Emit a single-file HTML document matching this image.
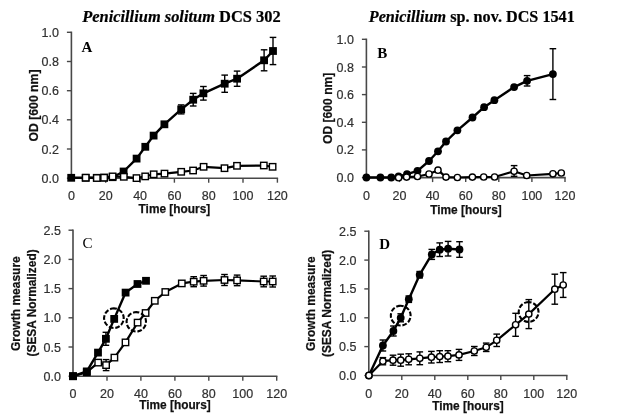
<!DOCTYPE html>
<html lang="en">
<head>
<meta charset="utf-8">
<title>Growth curves</title>
<style>
html,body{margin:0;padding:0;background:#fff;}
body{width:620px;height:415px;overflow:hidden;}
svg{display:block;}
.tk{font-family:"Liberation Sans",sans-serif;font-size:12.5px;fill:#303030;stroke:#303030;stroke-width:0.2px;}
.lb{font-family:"Liberation Sans",sans-serif;font-size:13px;font-weight:bold;fill:#111;stroke:#111;stroke-width:0.25px;}
.ttl{font-family:"Liberation Serif",serif;font-size:15.8px;font-weight:bold;fill:#000;stroke:#000;stroke-width:0.2px;}
.pl{font-family:"Liberation Serif",serif;font-size:15px;fill:#000;}
</style>
</head>
<body>
<svg width="620" height="415" viewBox="0 0 620 415">
<rect x="0" y="0" width="620" height="415" fill="#ffffff"/>
<g style="filter:blur(0.45px)">
<line x1="71.4" y1="31.6" x2="71.4" y2="178.9" stroke="#484848" stroke-width="1.6" />
<line x1="71.4" y1="178.2" x2="278.1" y2="178.2" stroke="#484848" stroke-width="1.6" />
<line x1="105.7" y1="178.2" x2="105.7" y2="182.7" stroke="#484848" stroke-width="1.4" />
<line x1="140.1" y1="178.2" x2="140.1" y2="182.7" stroke="#484848" stroke-width="1.4" />
<line x1="174.4" y1="178.2" x2="174.4" y2="182.7" stroke="#484848" stroke-width="1.4" />
<line x1="208.7" y1="178.2" x2="208.7" y2="182.7" stroke="#484848" stroke-width="1.4" />
<line x1="243.0" y1="178.2" x2="243.0" y2="182.7" stroke="#484848" stroke-width="1.4" />
<line x1="277.4" y1="178.2" x2="277.4" y2="182.7" stroke="#484848" stroke-width="1.4" />
<line x1="66.9" y1="178.2" x2="71.4" y2="178.2" stroke="#484848" stroke-width="1.4" />
<line x1="66.9" y1="149.0" x2="71.4" y2="149.0" stroke="#484848" stroke-width="1.4" />
<line x1="66.9" y1="119.8" x2="71.4" y2="119.8" stroke="#484848" stroke-width="1.4" />
<line x1="66.9" y1="90.7" x2="71.4" y2="90.7" stroke="#484848" stroke-width="1.4" />
<line x1="66.9" y1="61.5" x2="71.4" y2="61.5" stroke="#484848" stroke-width="1.4" />
<line x1="66.9" y1="32.3" x2="71.4" y2="32.3" stroke="#484848" stroke-width="1.4" />
<text x="71.4" y="199.8" class="tk" text-anchor="middle">0</text>
<text x="105.7" y="199.8" class="tk" text-anchor="middle">20</text>
<text x="140.1" y="199.8" class="tk" text-anchor="middle">40</text>
<text x="174.4" y="199.8" class="tk" text-anchor="middle">60</text>
<text x="208.7" y="199.8" class="tk" text-anchor="middle">80</text>
<text x="243.0" y="199.8" class="tk" text-anchor="middle">100</text>
<text x="277.4" y="199.8" class="tk" text-anchor="middle">120</text>
<text x="59.0" y="182.7" class="tk" text-anchor="end">0.0</text>
<text x="59.0" y="153.5" class="tk" text-anchor="end">0.2</text>
<text x="59.0" y="124.3" class="tk" text-anchor="end">0.4</text>
<text x="59.0" y="95.2" class="tk" text-anchor="end">0.6</text>
<text x="59.0" y="66.0" class="tk" text-anchor="end">0.8</text>
<text x="59.0" y="36.8" class="tk" text-anchor="end">1.0</text>
<polyline points="71.2,177.8 85.7,177.8 96.8,177.8 104.1,177.6 112.6,177.2 123.6,171.5 136.6,158.6 145.3,146.8 153.6,135.6 164.4,124.3 181.2,109.4 193.2,99.7 203.4,93.3 224.7,83.7 237.1,78.7 264.1,60.3 273.0,51.0" fill="none" stroke="#000" stroke-width="2.4" stroke-linejoin="round"/>
<line x1="181.2" y1="104.9" x2="181.2" y2="113.9" stroke="#000" stroke-width="1.4" />
<line x1="177.9" y1="104.9" x2="184.5" y2="104.9" stroke="#000" stroke-width="1.4" />
<line x1="177.9" y1="113.9" x2="184.5" y2="113.9" stroke="#000" stroke-width="1.4" />
<line x1="193.2" y1="93.4" x2="193.2" y2="106.0" stroke="#000" stroke-width="1.4" />
<line x1="189.9" y1="93.4" x2="196.5" y2="93.4" stroke="#000" stroke-width="1.4" />
<line x1="189.9" y1="106.0" x2="196.5" y2="106.0" stroke="#000" stroke-width="1.4" />
<line x1="203.4" y1="86.5" x2="203.4" y2="100.1" stroke="#000" stroke-width="1.4" />
<line x1="200.1" y1="86.5" x2="206.7" y2="86.5" stroke="#000" stroke-width="1.4" />
<line x1="200.1" y1="100.1" x2="206.7" y2="100.1" stroke="#000" stroke-width="1.4" />
<line x1="224.7" y1="75.1" x2="224.7" y2="92.3" stroke="#000" stroke-width="1.4" />
<line x1="221.4" y1="75.1" x2="228.0" y2="75.1" stroke="#000" stroke-width="1.4" />
<line x1="221.4" y1="92.3" x2="228.0" y2="92.3" stroke="#000" stroke-width="1.4" />
<line x1="237.1" y1="71.1" x2="237.1" y2="86.3" stroke="#000" stroke-width="1.4" />
<line x1="233.8" y1="71.1" x2="240.4" y2="71.1" stroke="#000" stroke-width="1.4" />
<line x1="233.8" y1="86.3" x2="240.4" y2="86.3" stroke="#000" stroke-width="1.4" />
<line x1="264.1" y1="49.8" x2="264.1" y2="70.8" stroke="#000" stroke-width="1.4" />
<line x1="260.8" y1="49.8" x2="267.4" y2="49.8" stroke="#000" stroke-width="1.4" />
<line x1="260.8" y1="70.8" x2="267.4" y2="70.8" stroke="#000" stroke-width="1.4" />
<line x1="273.0" y1="37.4" x2="273.0" y2="64.6" stroke="#000" stroke-width="1.4" />
<line x1="269.7" y1="37.4" x2="276.3" y2="37.4" stroke="#000" stroke-width="1.4" />
<line x1="269.7" y1="64.6" x2="276.3" y2="64.6" stroke="#000" stroke-width="1.4" />
<rect x="67.3" y="173.9" width="7.8" height="7.8" fill="#000"/>
<rect x="81.8" y="173.9" width="7.8" height="7.8" fill="#000"/>
<rect x="92.9" y="173.9" width="7.8" height="7.8" fill="#000"/>
<rect x="100.2" y="173.7" width="7.8" height="7.8" fill="#000"/>
<rect x="108.7" y="173.3" width="7.8" height="7.8" fill="#000"/>
<rect x="119.7" y="167.6" width="7.8" height="7.8" fill="#000"/>
<rect x="132.7" y="154.7" width="7.8" height="7.8" fill="#000"/>
<rect x="141.4" y="142.9" width="7.8" height="7.8" fill="#000"/>
<rect x="149.7" y="131.7" width="7.8" height="7.8" fill="#000"/>
<rect x="160.5" y="120.4" width="7.8" height="7.8" fill="#000"/>
<rect x="177.3" y="105.5" width="7.8" height="7.8" fill="#000"/>
<rect x="189.3" y="95.8" width="7.8" height="7.8" fill="#000"/>
<rect x="199.5" y="89.4" width="7.8" height="7.8" fill="#000"/>
<rect x="220.8" y="79.8" width="7.8" height="7.8" fill="#000"/>
<rect x="233.2" y="74.8" width="7.8" height="7.8" fill="#000"/>
<rect x="260.2" y="56.4" width="7.8" height="7.8" fill="#000"/>
<rect x="269.1" y="47.1" width="7.8" height="7.8" fill="#000"/>
<polyline points="85.7,177.7 96.8,178.0 104.1,177.7 112.6,176.4 123.8,176.8 136.5,178.1 145.2,176.4 153.7,174.3 164.5,173.6 181.2,171.8 193.1,170.5 203.6,166.8 224.5,168.2 237.0,165.8 263.8,165.5 272.6,166.8" fill="none" stroke="#000" stroke-width="2.2" stroke-linejoin="round"/>
<rect x="82.5" y="174.5" width="6.4" height="6.4" fill="#fff" stroke="#000" stroke-width="1.4"/>
<rect x="93.6" y="174.8" width="6.4" height="6.4" fill="#fff" stroke="#000" stroke-width="1.4"/>
<rect x="100.9" y="174.5" width="6.4" height="6.4" fill="#fff" stroke="#000" stroke-width="1.4"/>
<rect x="109.4" y="173.2" width="6.4" height="6.4" fill="#fff" stroke="#000" stroke-width="1.4"/>
<rect x="120.6" y="173.6" width="6.4" height="6.4" fill="#fff" stroke="#000" stroke-width="1.4"/>
<rect x="133.3" y="174.9" width="6.4" height="6.4" fill="#fff" stroke="#000" stroke-width="1.4"/>
<rect x="142.0" y="173.2" width="6.4" height="6.4" fill="#fff" stroke="#000" stroke-width="1.4"/>
<rect x="150.5" y="171.1" width="6.4" height="6.4" fill="#fff" stroke="#000" stroke-width="1.4"/>
<rect x="161.3" y="170.4" width="6.4" height="6.4" fill="#fff" stroke="#000" stroke-width="1.4"/>
<rect x="178.0" y="168.6" width="6.4" height="6.4" fill="#fff" stroke="#000" stroke-width="1.4"/>
<rect x="189.9" y="167.3" width="6.4" height="6.4" fill="#fff" stroke="#000" stroke-width="1.4"/>
<rect x="200.4" y="163.6" width="6.4" height="6.4" fill="#fff" stroke="#000" stroke-width="1.4"/>
<rect x="221.3" y="165.0" width="6.4" height="6.4" fill="#fff" stroke="#000" stroke-width="1.4"/>
<rect x="233.8" y="162.6" width="6.4" height="6.4" fill="#fff" stroke="#000" stroke-width="1.4"/>
<rect x="260.6" y="162.3" width="6.4" height="6.4" fill="#fff" stroke="#000" stroke-width="1.4"/>
<rect x="269.4" y="163.6" width="6.4" height="6.4" fill="#fff" stroke="#000" stroke-width="1.4"/>
<line x1="366.4" y1="38.6" x2="366.4" y2="178.3" stroke="#484848" stroke-width="1.6" />
<line x1="366.4" y1="177.6" x2="565.7" y2="177.6" stroke="#484848" stroke-width="1.6" />
<line x1="399.5" y1="177.6" x2="399.5" y2="182.1" stroke="#484848" stroke-width="1.4" />
<line x1="432.6" y1="177.6" x2="432.6" y2="182.1" stroke="#484848" stroke-width="1.4" />
<line x1="465.7" y1="177.6" x2="465.7" y2="182.1" stroke="#484848" stroke-width="1.4" />
<line x1="498.8" y1="177.6" x2="498.8" y2="182.1" stroke="#484848" stroke-width="1.4" />
<line x1="531.9" y1="177.6" x2="531.9" y2="182.1" stroke="#484848" stroke-width="1.4" />
<line x1="565.0" y1="177.6" x2="565.0" y2="182.1" stroke="#484848" stroke-width="1.4" />
<line x1="361.9" y1="177.6" x2="366.4" y2="177.6" stroke="#484848" stroke-width="1.4" />
<line x1="361.9" y1="149.9" x2="366.4" y2="149.9" stroke="#484848" stroke-width="1.4" />
<line x1="361.9" y1="122.3" x2="366.4" y2="122.3" stroke="#484848" stroke-width="1.4" />
<line x1="361.9" y1="94.6" x2="366.4" y2="94.6" stroke="#484848" stroke-width="1.4" />
<line x1="361.9" y1="67.0" x2="366.4" y2="67.0" stroke="#484848" stroke-width="1.4" />
<line x1="361.9" y1="39.3" x2="366.4" y2="39.3" stroke="#484848" stroke-width="1.4" />
<text x="366.4" y="200.1" class="tk" text-anchor="middle">0</text>
<text x="399.5" y="200.1" class="tk" text-anchor="middle">20</text>
<text x="432.6" y="200.1" class="tk" text-anchor="middle">40</text>
<text x="465.7" y="200.1" class="tk" text-anchor="middle">60</text>
<text x="498.8" y="200.1" class="tk" text-anchor="middle">80</text>
<text x="531.9" y="200.1" class="tk" text-anchor="middle">100</text>
<text x="565.0" y="200.1" class="tk" text-anchor="middle">120</text>
<text x="354.0" y="182.1" class="tk" text-anchor="end">0.0</text>
<text x="354.0" y="154.4" class="tk" text-anchor="end">0.2</text>
<text x="354.0" y="126.8" class="tk" text-anchor="end">0.4</text>
<text x="354.0" y="99.1" class="tk" text-anchor="end">0.6</text>
<text x="354.0" y="71.5" class="tk" text-anchor="end">0.8</text>
<text x="354.0" y="43.8" class="tk" text-anchor="end">1.0</text>
<polyline points="366.4,177.5 380.4,177.5 391.3,177.5 398.6,176.3 407.0,174.2 417.5,170.8 429.0,161.0 438.0,151.3 446.0,141.5 457.4,130.3 472.5,117.5 484.1,107.2 494.4,100.2 514.1,87.1 527.1,80.8 552.9,74.1" fill="none" stroke="#000" stroke-width="2.4" stroke-linejoin="round"/>
<line x1="527.1" y1="75.6" x2="527.1" y2="86.0" stroke="#000" stroke-width="1.4" />
<line x1="523.8" y1="75.6" x2="530.4" y2="75.6" stroke="#000" stroke-width="1.4" />
<line x1="523.8" y1="86.0" x2="530.4" y2="86.0" stroke="#000" stroke-width="1.4" />
<line x1="552.9" y1="48.7" x2="552.9" y2="99.5" stroke="#000" stroke-width="1.4" />
<line x1="549.6" y1="48.7" x2="556.2" y2="48.7" stroke="#000" stroke-width="1.4" />
<line x1="549.6" y1="99.5" x2="556.2" y2="99.5" stroke="#000" stroke-width="1.4" />
<circle cx="366.4" cy="177.5" r="3.9" fill="#000"/>
<circle cx="380.4" cy="177.5" r="3.9" fill="#000"/>
<circle cx="391.3" cy="177.5" r="3.9" fill="#000"/>
<circle cx="398.6" cy="176.3" r="3.9" fill="#000"/>
<circle cx="407.0" cy="174.2" r="3.9" fill="#000"/>
<circle cx="417.5" cy="170.8" r="3.9" fill="#000"/>
<circle cx="429.0" cy="161.0" r="3.9" fill="#000"/>
<circle cx="438.0" cy="151.3" r="3.9" fill="#000"/>
<circle cx="446.0" cy="141.5" r="3.9" fill="#000"/>
<circle cx="457.4" cy="130.3" r="3.9" fill="#000"/>
<circle cx="472.5" cy="117.5" r="3.9" fill="#000"/>
<circle cx="484.1" cy="107.2" r="3.9" fill="#000"/>
<circle cx="494.4" cy="100.2" r="3.9" fill="#000"/>
<circle cx="514.1" cy="87.1" r="3.9" fill="#000"/>
<circle cx="527.1" cy="80.8" r="3.9" fill="#000"/>
<circle cx="552.9" cy="74.1" r="3.9" fill="#000"/>
<polyline points="398.6,177.7 406.6,177.1 417.5,176.5 429.0,174.0 438.0,170.2 446.0,177.1 457.4,177.5 472.4,177.1 483.7,177.0 494.6,177.0 514.1,171.3 526.7,175.5 552.9,173.8 561.3,173.0" fill="none" stroke="#000" stroke-width="2.2" stroke-linejoin="round"/>
<line x1="514.1" y1="165.6" x2="514.1" y2="176.3" stroke="#000" stroke-width="1.4" />
<line x1="510.8" y1="165.6" x2="517.4" y2="165.6" stroke="#000" stroke-width="1.4" />
<line x1="510.8" y1="176.3" x2="517.4" y2="176.3" stroke="#000" stroke-width="1.4" />
<circle cx="398.6" cy="177.7" r="3.15" fill="#fff" stroke="#000" stroke-width="1.4"/>
<circle cx="406.6" cy="177.1" r="3.15" fill="#fff" stroke="#000" stroke-width="1.4"/>
<circle cx="417.5" cy="176.5" r="3.15" fill="#fff" stroke="#000" stroke-width="1.4"/>
<circle cx="429.0" cy="174.0" r="3.15" fill="#fff" stroke="#000" stroke-width="1.4"/>
<circle cx="438.0" cy="170.2" r="3.15" fill="#fff" stroke="#000" stroke-width="1.4"/>
<circle cx="446.0" cy="177.1" r="3.15" fill="#fff" stroke="#000" stroke-width="1.4"/>
<circle cx="457.4" cy="177.5" r="3.15" fill="#fff" stroke="#000" stroke-width="1.4"/>
<circle cx="472.4" cy="177.1" r="3.15" fill="#fff" stroke="#000" stroke-width="1.4"/>
<circle cx="483.7" cy="177.0" r="3.15" fill="#fff" stroke="#000" stroke-width="1.4"/>
<circle cx="494.6" cy="177.0" r="3.15" fill="#fff" stroke="#000" stroke-width="1.4"/>
<circle cx="514.1" cy="171.3" r="3.15" fill="#fff" stroke="#000" stroke-width="1.4"/>
<circle cx="526.7" cy="175.5" r="3.15" fill="#fff" stroke="#000" stroke-width="1.4"/>
<circle cx="552.9" cy="173.8" r="3.15" fill="#fff" stroke="#000" stroke-width="1.4"/>
<circle cx="561.3" cy="173.0" r="3.15" fill="#fff" stroke="#000" stroke-width="1.4"/>
<line x1="73.0" y1="229.5" x2="73.0" y2="376.9" stroke="#484848" stroke-width="1.6" />
<line x1="73.0" y1="376.2" x2="277.4" y2="376.2" stroke="#484848" stroke-width="1.6" />
<line x1="107.0" y1="376.2" x2="107.0" y2="380.7" stroke="#484848" stroke-width="1.4" />
<line x1="140.9" y1="376.2" x2="140.9" y2="380.7" stroke="#484848" stroke-width="1.4" />
<line x1="174.9" y1="376.2" x2="174.9" y2="380.7" stroke="#484848" stroke-width="1.4" />
<line x1="208.8" y1="376.2" x2="208.8" y2="380.7" stroke="#484848" stroke-width="1.4" />
<line x1="242.8" y1="376.2" x2="242.8" y2="380.7" stroke="#484848" stroke-width="1.4" />
<line x1="276.7" y1="376.2" x2="276.7" y2="380.7" stroke="#484848" stroke-width="1.4" />
<line x1="68.5" y1="376.2" x2="73.0" y2="376.2" stroke="#484848" stroke-width="1.4" />
<line x1="68.5" y1="347.0" x2="73.0" y2="347.0" stroke="#484848" stroke-width="1.4" />
<line x1="68.5" y1="317.8" x2="73.0" y2="317.8" stroke="#484848" stroke-width="1.4" />
<line x1="68.5" y1="288.6" x2="73.0" y2="288.6" stroke="#484848" stroke-width="1.4" />
<line x1="68.5" y1="259.4" x2="73.0" y2="259.4" stroke="#484848" stroke-width="1.4" />
<line x1="68.5" y1="230.2" x2="73.0" y2="230.2" stroke="#484848" stroke-width="1.4" />
<text x="73.0" y="398.2" class="tk" text-anchor="middle">0</text>
<text x="107.0" y="398.2" class="tk" text-anchor="middle">20</text>
<text x="140.9" y="398.2" class="tk" text-anchor="middle">40</text>
<text x="174.9" y="398.2" class="tk" text-anchor="middle">60</text>
<text x="208.8" y="398.2" class="tk" text-anchor="middle">80</text>
<text x="242.8" y="398.2" class="tk" text-anchor="middle">100</text>
<text x="276.7" y="398.2" class="tk" text-anchor="middle">120</text>
<text x="61.0" y="380.7" class="tk" text-anchor="end">0.0</text>
<text x="61.0" y="351.5" class="tk" text-anchor="end">0.5</text>
<text x="61.0" y="322.3" class="tk" text-anchor="end">1.0</text>
<text x="61.0" y="293.1" class="tk" text-anchor="end">1.5</text>
<text x="61.0" y="263.9" class="tk" text-anchor="end">2.0</text>
<text x="61.0" y="234.7" class="tk" text-anchor="end">2.5</text>
<polyline points="73.0,376.2 86.8,372.2 98.2,362.6 106.1,365.1 114.4,357.6 125.5,342.4 137.6,322.6 145.6,313.0 154.8,300.8 165.3,292.0 181.8,283.4 193.7,281.7 203.6,280.8 224.5,280.0 237.1,280.4 263.7,281.5 272.7,281.5" fill="none" stroke="#000" stroke-width="2.2" stroke-linejoin="round"/>
<line x1="106.1" y1="359.6" x2="106.1" y2="370.6" stroke="#000" stroke-width="1.4" />
<line x1="102.8" y1="359.6" x2="109.4" y2="359.6" stroke="#000" stroke-width="1.4" />
<line x1="102.8" y1="370.6" x2="109.4" y2="370.6" stroke="#000" stroke-width="1.4" />
<line x1="193.7" y1="276.7" x2="193.7" y2="286.7" stroke="#000" stroke-width="1.4" />
<line x1="190.4" y1="276.7" x2="197.0" y2="276.7" stroke="#000" stroke-width="1.4" />
<line x1="190.4" y1="286.7" x2="197.0" y2="286.7" stroke="#000" stroke-width="1.4" />
<line x1="203.6" y1="275.5" x2="203.6" y2="286.1" stroke="#000" stroke-width="1.4" />
<line x1="200.3" y1="275.5" x2="206.9" y2="275.5" stroke="#000" stroke-width="1.4" />
<line x1="200.3" y1="286.1" x2="206.9" y2="286.1" stroke="#000" stroke-width="1.4" />
<line x1="224.5" y1="274.5" x2="224.5" y2="285.5" stroke="#000" stroke-width="1.4" />
<line x1="221.2" y1="274.5" x2="227.8" y2="274.5" stroke="#000" stroke-width="1.4" />
<line x1="221.2" y1="285.5" x2="227.8" y2="285.5" stroke="#000" stroke-width="1.4" />
<line x1="237.1" y1="275.1" x2="237.1" y2="285.7" stroke="#000" stroke-width="1.4" />
<line x1="233.8" y1="275.1" x2="240.4" y2="275.1" stroke="#000" stroke-width="1.4" />
<line x1="233.8" y1="285.7" x2="240.4" y2="285.7" stroke="#000" stroke-width="1.4" />
<line x1="263.7" y1="276.2" x2="263.7" y2="286.8" stroke="#000" stroke-width="1.4" />
<line x1="260.4" y1="276.2" x2="267.0" y2="276.2" stroke="#000" stroke-width="1.4" />
<line x1="260.4" y1="286.8" x2="267.0" y2="286.8" stroke="#000" stroke-width="1.4" />
<line x1="272.7" y1="276.0" x2="272.7" y2="287.0" stroke="#000" stroke-width="1.4" />
<line x1="269.4" y1="276.0" x2="276.0" y2="276.0" stroke="#000" stroke-width="1.4" />
<line x1="269.4" y1="287.0" x2="276.0" y2="287.0" stroke="#000" stroke-width="1.4" />
<rect x="69.8" y="373.0" width="6.4" height="6.4" fill="#fff" stroke="#000" stroke-width="1.4"/>
<rect x="83.6" y="369.0" width="6.4" height="6.4" fill="#fff" stroke="#000" stroke-width="1.4"/>
<rect x="95.0" y="359.4" width="6.4" height="6.4" fill="#fff" stroke="#000" stroke-width="1.4"/>
<rect x="102.9" y="361.9" width="6.4" height="6.4" fill="#fff" stroke="#000" stroke-width="1.4"/>
<rect x="111.2" y="354.4" width="6.4" height="6.4" fill="#fff" stroke="#000" stroke-width="1.4"/>
<rect x="122.3" y="339.2" width="6.4" height="6.4" fill="#fff" stroke="#000" stroke-width="1.4"/>
<rect x="134.4" y="319.4" width="6.4" height="6.4" fill="#fff" stroke="#000" stroke-width="1.4"/>
<rect x="142.4" y="309.8" width="6.4" height="6.4" fill="#fff" stroke="#000" stroke-width="1.4"/>
<rect x="151.6" y="297.6" width="6.4" height="6.4" fill="#fff" stroke="#000" stroke-width="1.4"/>
<rect x="162.1" y="288.8" width="6.4" height="6.4" fill="#fff" stroke="#000" stroke-width="1.4"/>
<rect x="178.6" y="280.2" width="6.4" height="6.4" fill="#fff" stroke="#000" stroke-width="1.4"/>
<rect x="190.5" y="278.5" width="6.4" height="6.4" fill="#fff" stroke="#000" stroke-width="1.4"/>
<rect x="200.4" y="277.6" width="6.4" height="6.4" fill="#fff" stroke="#000" stroke-width="1.4"/>
<rect x="221.3" y="276.8" width="6.4" height="6.4" fill="#fff" stroke="#000" stroke-width="1.4"/>
<rect x="233.9" y="277.2" width="6.4" height="6.4" fill="#fff" stroke="#000" stroke-width="1.4"/>
<rect x="260.5" y="278.3" width="6.4" height="6.4" fill="#fff" stroke="#000" stroke-width="1.4"/>
<rect x="269.5" y="278.3" width="6.4" height="6.4" fill="#fff" stroke="#000" stroke-width="1.4"/>
<polyline points="73.0,376.2 86.8,371.4 98.0,352.6 105.9,338.8 114.2,318.9 125.6,292.6 137.5,284.0 146.0,280.8" fill="none" stroke="#000" stroke-width="2.4" stroke-linejoin="round"/>
<line x1="105.9" y1="332.3" x2="105.9" y2="345.3" stroke="#000" stroke-width="1.4" />
<line x1="102.6" y1="332.3" x2="109.2" y2="332.3" stroke="#000" stroke-width="1.4" />
<line x1="102.6" y1="345.3" x2="109.2" y2="345.3" stroke="#000" stroke-width="1.4" />
<rect x="69.1" y="372.3" width="7.8" height="7.8" fill="#000"/>
<rect x="82.9" y="367.5" width="7.8" height="7.8" fill="#000"/>
<rect x="94.1" y="348.7" width="7.8" height="7.8" fill="#000"/>
<rect x="102.0" y="334.9" width="7.8" height="7.8" fill="#000"/>
<rect x="110.3" y="315.0" width="7.8" height="7.8" fill="#000"/>
<rect x="121.7" y="288.7" width="7.8" height="7.8" fill="#000"/>
<rect x="133.6" y="280.1" width="7.8" height="7.8" fill="#000"/>
<rect x="142.1" y="276.9" width="7.8" height="7.8" fill="#000"/>
<circle cx="113.9" cy="318.2" r="9.8" fill="none" stroke="#000" stroke-width="2.1" stroke-dasharray="4.7 1.85" transform="rotate(-100 113.9 318.2)"/>
<circle cx="136.3" cy="321.8" r="9.7" fill="none" stroke="#000" stroke-width="2.1" stroke-dasharray="4.7 1.85" transform="rotate(-100 136.3 321.8)"/>
<line x1="368.8" y1="230.5" x2="368.8" y2="376.2" stroke="#484848" stroke-width="1.6" />
<line x1="368.8" y1="375.5" x2="567.5" y2="375.5" stroke="#484848" stroke-width="1.6" />
<line x1="401.8" y1="375.5" x2="401.8" y2="380.0" stroke="#484848" stroke-width="1.4" />
<line x1="434.8" y1="375.5" x2="434.8" y2="380.0" stroke="#484848" stroke-width="1.4" />
<line x1="467.8" y1="375.5" x2="467.8" y2="380.0" stroke="#484848" stroke-width="1.4" />
<line x1="500.8" y1="375.5" x2="500.8" y2="380.0" stroke="#484848" stroke-width="1.4" />
<line x1="533.8" y1="375.5" x2="533.8" y2="380.0" stroke="#484848" stroke-width="1.4" />
<line x1="566.8" y1="375.5" x2="566.8" y2="380.0" stroke="#484848" stroke-width="1.4" />
<line x1="364.3" y1="375.5" x2="368.8" y2="375.5" stroke="#484848" stroke-width="1.4" />
<line x1="364.3" y1="346.6" x2="368.8" y2="346.6" stroke="#484848" stroke-width="1.4" />
<line x1="364.3" y1="317.8" x2="368.8" y2="317.8" stroke="#484848" stroke-width="1.4" />
<line x1="364.3" y1="288.9" x2="368.8" y2="288.9" stroke="#484848" stroke-width="1.4" />
<line x1="364.3" y1="260.1" x2="368.8" y2="260.1" stroke="#484848" stroke-width="1.4" />
<line x1="364.3" y1="231.2" x2="368.8" y2="231.2" stroke="#484848" stroke-width="1.4" />
<text x="368.8" y="397.9" class="tk" text-anchor="middle">0</text>
<text x="401.8" y="397.9" class="tk" text-anchor="middle">20</text>
<text x="434.8" y="397.9" class="tk" text-anchor="middle">40</text>
<text x="467.8" y="397.9" class="tk" text-anchor="middle">60</text>
<text x="500.8" y="397.9" class="tk" text-anchor="middle">80</text>
<text x="533.8" y="397.9" class="tk" text-anchor="middle">100</text>
<text x="566.8" y="397.9" class="tk" text-anchor="middle">120</text>
<text x="356.5" y="380.0" class="tk" text-anchor="end">0.0</text>
<text x="356.5" y="351.1" class="tk" text-anchor="end">0.5</text>
<text x="356.5" y="322.3" class="tk" text-anchor="end">1.0</text>
<text x="356.5" y="293.4" class="tk" text-anchor="end">1.5</text>
<text x="356.5" y="264.6" class="tk" text-anchor="end">2.0</text>
<text x="356.5" y="235.7" class="tk" text-anchor="end">2.5</text>
<polyline points="368.9,375.5 382.9,345.5 393.4,331.0 400.7,317.8 408.8,299.2 419.7,274.7 431.8,254.4 439.7,249.7 448.1,248.7 459.5,249.5" fill="none" stroke="#000" stroke-width="2.4" stroke-linejoin="round"/>
<line x1="382.9" y1="340.0" x2="382.9" y2="351.0" stroke="#000" stroke-width="1.4" />
<line x1="379.6" y1="340.0" x2="386.2" y2="340.0" stroke="#000" stroke-width="1.4" />
<line x1="379.6" y1="351.0" x2="386.2" y2="351.0" stroke="#000" stroke-width="1.4" />
<line x1="393.4" y1="326.0" x2="393.4" y2="336.0" stroke="#000" stroke-width="1.4" />
<line x1="390.1" y1="326.0" x2="396.7" y2="326.0" stroke="#000" stroke-width="1.4" />
<line x1="390.1" y1="336.0" x2="396.7" y2="336.0" stroke="#000" stroke-width="1.4" />
<line x1="400.7" y1="313.8" x2="400.7" y2="321.8" stroke="#000" stroke-width="1.4" />
<line x1="397.4" y1="313.8" x2="404.0" y2="313.8" stroke="#000" stroke-width="1.4" />
<line x1="397.4" y1="321.8" x2="404.0" y2="321.8" stroke="#000" stroke-width="1.4" />
<line x1="408.8" y1="296.0" x2="408.8" y2="302.4" stroke="#000" stroke-width="1.4" />
<line x1="405.5" y1="296.0" x2="412.1" y2="296.0" stroke="#000" stroke-width="1.4" />
<line x1="405.5" y1="302.4" x2="412.1" y2="302.4" stroke="#000" stroke-width="1.4" />
<line x1="419.7" y1="271.5" x2="419.7" y2="277.9" stroke="#000" stroke-width="1.4" />
<line x1="416.4" y1="271.5" x2="423.0" y2="271.5" stroke="#000" stroke-width="1.4" />
<line x1="416.4" y1="277.9" x2="423.0" y2="277.9" stroke="#000" stroke-width="1.4" />
<line x1="431.8" y1="249.4" x2="431.8" y2="259.4" stroke="#000" stroke-width="1.4" />
<line x1="428.5" y1="249.4" x2="435.1" y2="249.4" stroke="#000" stroke-width="1.4" />
<line x1="428.5" y1="259.4" x2="435.1" y2="259.4" stroke="#000" stroke-width="1.4" />
<line x1="439.7" y1="242.9" x2="439.7" y2="256.5" stroke="#000" stroke-width="1.4" />
<line x1="436.4" y1="242.9" x2="443.0" y2="242.9" stroke="#000" stroke-width="1.4" />
<line x1="436.4" y1="256.5" x2="443.0" y2="256.5" stroke="#000" stroke-width="1.4" />
<line x1="448.1" y1="241.4" x2="448.1" y2="256.0" stroke="#000" stroke-width="1.4" />
<line x1="444.8" y1="241.4" x2="451.4" y2="241.4" stroke="#000" stroke-width="1.4" />
<line x1="444.8" y1="256.0" x2="451.4" y2="256.0" stroke="#000" stroke-width="1.4" />
<line x1="459.5" y1="241.7" x2="459.5" y2="257.3" stroke="#000" stroke-width="1.4" />
<line x1="456.2" y1="241.7" x2="462.8" y2="241.7" stroke="#000" stroke-width="1.4" />
<line x1="456.2" y1="257.3" x2="462.8" y2="257.3" stroke="#000" stroke-width="1.4" />
<circle cx="368.9" cy="375.5" r="3.9" fill="#000"/>
<circle cx="382.9" cy="345.5" r="3.9" fill="#000"/>
<circle cx="393.4" cy="331.0" r="3.9" fill="#000"/>
<circle cx="400.7" cy="317.8" r="3.9" fill="#000"/>
<circle cx="408.8" cy="299.2" r="3.9" fill="#000"/>
<circle cx="419.7" cy="274.7" r="3.9" fill="#000"/>
<circle cx="431.8" cy="254.4" r="3.9" fill="#000"/>
<circle cx="439.7" cy="249.7" r="3.9" fill="#000"/>
<circle cx="448.1" cy="248.7" r="3.9" fill="#000"/>
<circle cx="459.5" cy="249.5" r="3.9" fill="#000"/>
<polyline points="368.9,375.5 382.9,361.2 393.0,360.2 400.7,360.2 408.7,359.3 419.8,358.3 431.4,357.2 439.7,356.6 447.9,356.2 459.0,354.9 474.3,351.0 486.2,347.3 496.7,340.3 515.6,324.8 528.8,314.1 554.8,289.2 563.2,285.0" fill="none" stroke="#000" stroke-width="2.2" stroke-linejoin="round"/>
<line x1="382.9" y1="357.6" x2="382.9" y2="364.8" stroke="#000" stroke-width="1.4" />
<line x1="379.6" y1="357.6" x2="386.2" y2="357.6" stroke="#000" stroke-width="1.4" />
<line x1="379.6" y1="364.8" x2="386.2" y2="364.8" stroke="#000" stroke-width="1.4" />
<line x1="393.0" y1="355.2" x2="393.0" y2="365.2" stroke="#000" stroke-width="1.4" />
<line x1="389.7" y1="355.2" x2="396.3" y2="355.2" stroke="#000" stroke-width="1.4" />
<line x1="389.7" y1="365.2" x2="396.3" y2="365.2" stroke="#000" stroke-width="1.4" />
<line x1="400.7" y1="354.2" x2="400.7" y2="366.2" stroke="#000" stroke-width="1.4" />
<line x1="397.4" y1="354.2" x2="404.0" y2="354.2" stroke="#000" stroke-width="1.4" />
<line x1="397.4" y1="366.2" x2="404.0" y2="366.2" stroke="#000" stroke-width="1.4" />
<line x1="408.7" y1="353.8" x2="408.7" y2="364.8" stroke="#000" stroke-width="1.4" />
<line x1="405.4" y1="353.8" x2="412.0" y2="353.8" stroke="#000" stroke-width="1.4" />
<line x1="405.4" y1="364.8" x2="412.0" y2="364.8" stroke="#000" stroke-width="1.4" />
<line x1="419.8" y1="351.9" x2="419.8" y2="364.7" stroke="#000" stroke-width="1.4" />
<line x1="416.5" y1="351.9" x2="423.1" y2="351.9" stroke="#000" stroke-width="1.4" />
<line x1="416.5" y1="364.7" x2="423.1" y2="364.7" stroke="#000" stroke-width="1.4" />
<line x1="431.4" y1="351.4" x2="431.4" y2="363.0" stroke="#000" stroke-width="1.4" />
<line x1="428.1" y1="351.4" x2="434.7" y2="351.4" stroke="#000" stroke-width="1.4" />
<line x1="428.1" y1="363.0" x2="434.7" y2="363.0" stroke="#000" stroke-width="1.4" />
<line x1="439.7" y1="350.7" x2="439.7" y2="362.5" stroke="#000" stroke-width="1.4" />
<line x1="436.4" y1="350.7" x2="443.0" y2="350.7" stroke="#000" stroke-width="1.4" />
<line x1="436.4" y1="362.5" x2="443.0" y2="362.5" stroke="#000" stroke-width="1.4" />
<line x1="447.9" y1="350.7" x2="447.9" y2="361.7" stroke="#000" stroke-width="1.4" />
<line x1="444.6" y1="350.7" x2="451.2" y2="350.7" stroke="#000" stroke-width="1.4" />
<line x1="444.6" y1="361.7" x2="451.2" y2="361.7" stroke="#000" stroke-width="1.4" />
<line x1="459.0" y1="349.4" x2="459.0" y2="360.4" stroke="#000" stroke-width="1.4" />
<line x1="455.7" y1="349.4" x2="462.3" y2="349.4" stroke="#000" stroke-width="1.4" />
<line x1="455.7" y1="360.4" x2="462.3" y2="360.4" stroke="#000" stroke-width="1.4" />
<line x1="474.3" y1="346.5" x2="474.3" y2="355.5" stroke="#000" stroke-width="1.4" />
<line x1="471.0" y1="346.5" x2="477.6" y2="346.5" stroke="#000" stroke-width="1.4" />
<line x1="471.0" y1="355.5" x2="477.6" y2="355.5" stroke="#000" stroke-width="1.4" />
<line x1="486.2" y1="343.1" x2="486.2" y2="351.5" stroke="#000" stroke-width="1.4" />
<line x1="482.9" y1="343.1" x2="489.5" y2="343.1" stroke="#000" stroke-width="1.4" />
<line x1="482.9" y1="351.5" x2="489.5" y2="351.5" stroke="#000" stroke-width="1.4" />
<line x1="496.7" y1="334.1" x2="496.7" y2="346.5" stroke="#000" stroke-width="1.4" />
<line x1="493.4" y1="334.1" x2="500.0" y2="334.1" stroke="#000" stroke-width="1.4" />
<line x1="493.4" y1="346.5" x2="500.0" y2="346.5" stroke="#000" stroke-width="1.4" />
<line x1="515.6" y1="313.3" x2="515.6" y2="336.3" stroke="#000" stroke-width="1.4" />
<line x1="512.3" y1="313.3" x2="518.9" y2="313.3" stroke="#000" stroke-width="1.4" />
<line x1="512.3" y1="336.3" x2="518.9" y2="336.3" stroke="#000" stroke-width="1.4" />
<line x1="528.8" y1="299.6" x2="528.8" y2="328.6" stroke="#000" stroke-width="1.4" />
<line x1="525.5" y1="299.6" x2="532.1" y2="299.6" stroke="#000" stroke-width="1.4" />
<line x1="525.5" y1="328.6" x2="532.1" y2="328.6" stroke="#000" stroke-width="1.4" />
<line x1="554.8" y1="274.2" x2="554.8" y2="304.2" stroke="#000" stroke-width="1.4" />
<line x1="551.5" y1="274.2" x2="558.1" y2="274.2" stroke="#000" stroke-width="1.4" />
<line x1="551.5" y1="304.2" x2="558.1" y2="304.2" stroke="#000" stroke-width="1.4" />
<line x1="563.2" y1="272.6" x2="563.2" y2="297.4" stroke="#000" stroke-width="1.4" />
<line x1="559.9" y1="272.6" x2="566.5" y2="272.6" stroke="#000" stroke-width="1.4" />
<line x1="559.9" y1="297.4" x2="566.5" y2="297.4" stroke="#000" stroke-width="1.4" />
<circle cx="368.9" cy="375.5" r="3.15" fill="#fff" stroke="#000" stroke-width="1.4"/>
<circle cx="382.9" cy="361.2" r="3.15" fill="#fff" stroke="#000" stroke-width="1.4"/>
<circle cx="393.0" cy="360.2" r="3.15" fill="#fff" stroke="#000" stroke-width="1.4"/>
<circle cx="400.7" cy="360.2" r="3.15" fill="#fff" stroke="#000" stroke-width="1.4"/>
<circle cx="408.7" cy="359.3" r="3.15" fill="#fff" stroke="#000" stroke-width="1.4"/>
<circle cx="419.8" cy="358.3" r="3.15" fill="#fff" stroke="#000" stroke-width="1.4"/>
<circle cx="431.4" cy="357.2" r="3.15" fill="#fff" stroke="#000" stroke-width="1.4"/>
<circle cx="439.7" cy="356.6" r="3.15" fill="#fff" stroke="#000" stroke-width="1.4"/>
<circle cx="447.9" cy="356.2" r="3.15" fill="#fff" stroke="#000" stroke-width="1.4"/>
<circle cx="459.0" cy="354.9" r="3.15" fill="#fff" stroke="#000" stroke-width="1.4"/>
<circle cx="474.3" cy="351.0" r="3.15" fill="#fff" stroke="#000" stroke-width="1.4"/>
<circle cx="486.2" cy="347.3" r="3.15" fill="#fff" stroke="#000" stroke-width="1.4"/>
<circle cx="496.7" cy="340.3" r="3.15" fill="#fff" stroke="#000" stroke-width="1.4"/>
<circle cx="515.6" cy="324.8" r="3.15" fill="#fff" stroke="#000" stroke-width="1.4"/>
<circle cx="528.8" cy="314.1" r="3.15" fill="#fff" stroke="#000" stroke-width="1.4"/>
<circle cx="554.8" cy="289.2" r="3.15" fill="#fff" stroke="#000" stroke-width="1.4"/>
<circle cx="563.2" cy="285.0" r="3.15" fill="#fff" stroke="#000" stroke-width="1.4"/>
<circle cx="400.7" cy="315.6" r="9.9" fill="none" stroke="#000" stroke-width="2.1" stroke-dasharray="4.7 1.85" transform="rotate(-100 400.7 315.6)"/>
<circle cx="528.6" cy="312.0" r="9.9" fill="none" stroke="#000" stroke-width="2.1" stroke-dasharray="4.7 1.85" transform="rotate(-100 528.6 312.0)"/>
<text x="82.2" y="21.8" class="ttl" textLength="198.5" lengthAdjust="spacingAndGlyphs"><tspan font-style="italic">Penicillium solitum</tspan> DCS 302</text>
<text x="368.8" y="21.6" class="ttl" textLength="206" lengthAdjust="spacingAndGlyphs"><tspan font-style="italic">Penicillium</tspan> sp. nov. DCS 1541</text>
<text x="81.4" y="51.5" class="pl" font-weight="bold">A</text>
<text x="377.2" y="57.8" class="pl" font-weight="bold">B</text>
<text x="82.6" y="247.8" class="pl" font-size="15">C</text>
<text x="379.2" y="248.5" class="pl" font-weight="bold">D</text>
<text x="174.4" y="213.4" class="lb" text-anchor="middle" textLength="71.6" lengthAdjust="spacingAndGlyphs">Time [hours]</text>
<text x="466.0" y="214.3" class="lb" text-anchor="middle" textLength="71.6" lengthAdjust="spacingAndGlyphs">Time [hours]</text>
<text x="175.0" y="409.3" class="lb" text-anchor="middle" textLength="71.6" lengthAdjust="spacingAndGlyphs">Time [hours]</text>
<text x="468.0" y="409.9" class="lb" text-anchor="middle" textLength="71.6" lengthAdjust="spacingAndGlyphs">Time [hours]</text>
<text transform="translate(38.4 105.5) rotate(-90)" class="lb" text-anchor="middle" textLength="72" lengthAdjust="spacingAndGlyphs">OD [600 nm]</text>
<text transform="translate(332.0 108.3) rotate(-90)" class="lb" text-anchor="middle" textLength="71.4" lengthAdjust="spacingAndGlyphs">OD [600 nm]</text>
<text transform="translate(20.0 303.6) rotate(-90)" class="lb" text-anchor="middle" textLength="94.8" lengthAdjust="spacingAndGlyphs">Growth measure</text>
<text transform="translate(36.0 302.9) rotate(-90)" class="lb" text-anchor="middle" textLength="107" lengthAdjust="spacingAndGlyphs">(SESA Normalized)</text>
<text transform="translate(314.6 303.7) rotate(-90)" class="lb" text-anchor="middle" textLength="94.5" lengthAdjust="spacingAndGlyphs">Growth measure</text>
<text transform="translate(331.0 303.4) rotate(-90)" class="lb" text-anchor="middle" textLength="107" lengthAdjust="spacingAndGlyphs">(SESA Normalized)</text>
</g>
</svg>
</body>
</html>
